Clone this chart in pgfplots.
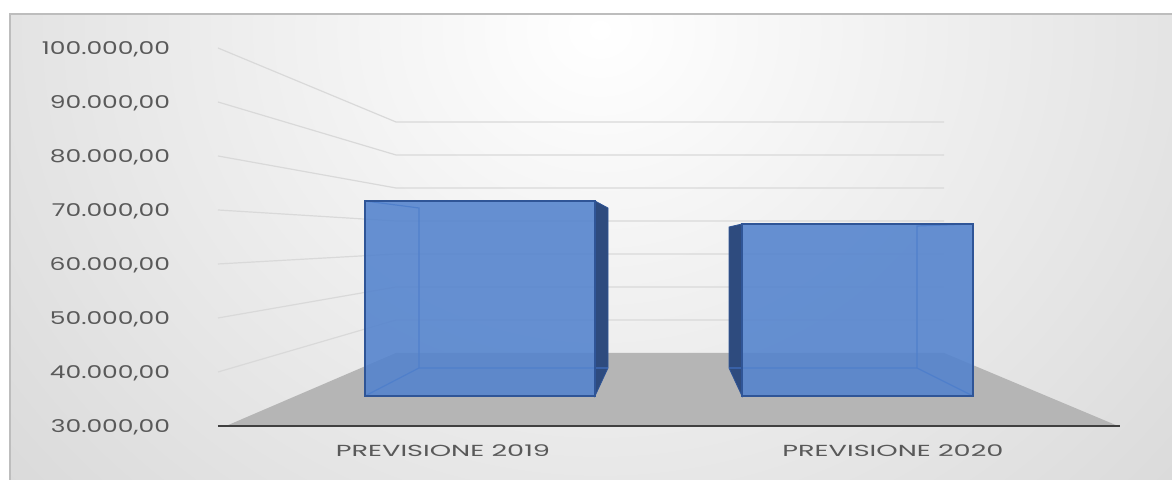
\documentclass[border=0pt]{standalone}
\usepackage{fontspec}
\usepackage{pgfplots}
\pgfplotsset{compat=1.18}
\setmainfont{Poppins}

\definecolor{tickgray}{HTML}{595959}
\definecolor{gridgray}{HTML}{D9D9D9}
\definecolor{floorgray}{HTML}{B5B5B5}
\definecolor{axisdark}{HTML}{404040}
\definecolor{bginner}{HTML}{FFFFFF}
\definecolor{bgouter}{HTML}{C6C6C6}
\definecolor{framegray}{HTML}{BDBDBD}
\definecolor{barface}{HTML}{5282CD}
\definecolor{baredge}{HTML}{2F5597}
\definecolor{barinner}{HTML}{3F6DBD}
\definecolor{barside}{HTML}{2E4B7E}

% x runs in picture pixels, y in the value scale of the left axis
% (1 px = 0.5 pt, 10.000 = 54 px)
\pgfplotstableread{
x    y
218  40000
396  49630
944  49630
nan  nan
218  50000
396  55741
944  55741
nan  nan
218  60000
396  61852
944  61852
nan  nan
218  70000
396  67963
944  67963
nan  nan
218  80000
396  74074
944  74074
nan  nan
218  90000
396  80185
944  80185
nan  nan
218  100000
396  86296
944  86296
}\gridlines

\begin{document}
\begin{tikzpicture}
\begin{axis}[
    scale only axis,
    width=451pt, height=189pt,
    xmin=218, xmax=1120,
    ymin=30000, ymax=100000,
    clip=false,
    axis on top,
    unbounded coords=jump,
    axis x line*=bottom,
    axis y line*=left,
    x axis line style={axisdark, line width=1.2pt, -},
    y axis line style={draw=none},
    major tick length=0pt,
    xtick={443,893},
    xticklabels={PREVISIONE 2019, PREVISIONE 2020},
    ytick={30000,40000,...,100000},
    scaled y ticks=false,
    tick label style={font=\fontsize{8.8}{10}\selectfont, text=tickgray},
    xticklabel style={font=\fontsize{8}{9}\selectfont, anchor=center, yshift=-12.5pt, xscale=1.7},
    yticklabel style={anchor=east, xshift=-19pt, xscale=1.42, yshift=-0.6pt},
    /pgf/number format/fixed,
    /pgf/number format/fixed zerofill,
    /pgf/number format/precision=2,
    /pgf/number format/1000 sep={.},
    /pgf/number format/dec sep={,},
    /pgf/number format/assume math mode=true,
]
% background frame
\fill[white] (axis cs:0,108889) rectangle (axis cs:1172,20000);
\begin{scope}
\clip (axis cs:10,106296) rectangle (axis cs:1172,20000);
\fill[bgouter] (axis cs:10,106296) rectangle (axis cs:1172,20000);
\shade[inner color=bginner, outer color=bgouter]
    (axis cs:600,103333) ellipse [x radius=600pt, y radius=540pt];
\end{scope}
\draw[framegray, line width=1pt] (axis cs:10,20000) -- (axis cs:10,106296) -- (axis cs:1172,106296);
\coordinate (TL) at (axis cs:0,108889);
\coordinate (BR) at (axis cs:1172,20000);

% walls and floor
\addplot[gridgray, line width=0.6pt] table {\gridlines};
\addplot[fill=floorgray, draw=none] coordinates
    {(226,30000) (396,43519) (944,43519) (1118,30000)} -- cycle;

% PREVISIONE 2019 (front top 71.667, read on the left scale)
\addplot[fill=barside, draw=baredge, line width=0.4pt] coordinates
    {(595,71667) (608,70370) (608,40741) (595,35556)} -- cycle;
\addplot[barinner, line width=0.6pt] coordinates
    {(365,71667) (419,70370) (419,40741) (608,40741)};
\addplot[barinner, line width=0.6pt] coordinates {(365,35556) (419,40741)};
\addplot[fill=barface, fill opacity=0.88, draw=baredge, line width=0.75pt] coordinates
    {(365,35556) (365,71667) (595,71667) (595,35556)} -- cycle;

% PREVISIONE 2020 (front top 67.407)
\addplot[fill=barside, draw=baredge, line width=0.4pt] coordinates
    {(742,67407) (729,66852) (729,40741) (742,35556)} -- cycle;
\addplot[barinner, line width=0.6pt] coordinates
    {(973,67407) (917,67037) (917,40741) (729,40741)};
\addplot[barinner, line width=0.6pt] coordinates {(973,35556) (917,40741)};
\addplot[fill=barface, fill opacity=0.88, draw=baredge, line width=0.75pt] coordinates
    {(742,35556) (742,67407) (973,67407) (973,35556)} -- cycle;
\end{axis}
\pgfresetboundingbox
\path[use as bounding box] (TL) rectangle (BR);
\end{tikzpicture}
\end{document}
